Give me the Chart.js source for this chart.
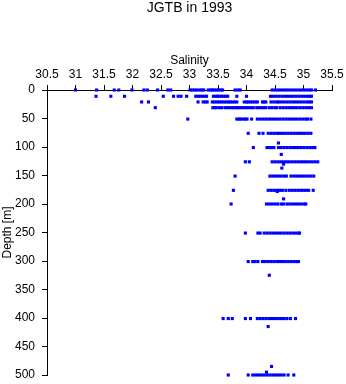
<!DOCTYPE html>
<html>
<head>
<meta charset="utf-8">
<script src="https://cdn.jsdelivr.net/npm/chart.js@4/dist/chart.umd.min.js"></script>
<style>
  body { margin: 0; background: #fff; }
  #wrap { width: 346px; height: 384px; }
</style>
</head>
<body>
<div id="wrap"><canvas id="chart" width="346" height="384"></canvas></div>
<script>
// salinity readings at each sampled depth (m)
const s0 = [31.0, 31.37, 31.68, 31.76, 31.99, 32.2, 32.26, 32.44, 32.62, 32.67, 33.01, 33.05, 33.09, 33.13, 33.18, 33.22, 33.25, 33.33, 33.37, 33.4, 33.43, 33.47, 33.51, 33.55, 33.58, 33.8, 33.85, 33.89,
  34.45, 34.5, 34.55, 34.6, 34.65, 34.7, 34.75, 34.8, 34.85, 34.9, 34.95, 35.0, 35.05, 35.1, 35.14, 35.21];
const s11 = [31.36, 31.62, 31.86, 32.54, 32.72, 32.8, 32.85, 32.95, 33.11, 33.15, 33.19, 33.23, 33.27, 33.3, 33.42, 33.46, 33.49, 33.52, 33.56, 33.6, 33.64, 33.67, 33.83, 34.0,
  34.42, 34.47, 34.52, 34.57, 34.62, 34.67, 34.72, 34.77, 34.82, 34.87, 34.92, 34.97, 35.02, 35.07, 35.11, 35.14];
const s21 = [32.16, 32.28, 33.15, 33.24, 33.28, 33.31, 33.4, 33.44, 33.48, 33.52, 33.56, 33.6, 33.64, 33.68, 33.71, 33.75, 33.79, 33.83, 33.96, 34.0, 34.03, 34.07, 34.11, 34.15, 34.19, 34.28, 34.31, 34.34, 34.43, 34.48, 34.53,
  34.56, 34.61, 34.66, 34.71, 34.76, 34.81, 34.86, 34.91, 34.96, 35.01, 35.06, 35.1, 35.14];
const s31 = [32.4, 33.41, 33.44, 33.47, 33.52, 33.56, 33.62, 33.66, 33.7, 33.74, 33.78, 33.82, 33.85, 33.88, 33.92, 33.96, 34.0, 34.04, 34.08, 34.12, 34.18, 34.22, 34.26, 34.3, 34.34, 34.4, 34.45, 34.5, 34.53,
  34.59, 34.64, 34.69, 34.74, 34.79, 34.84, 34.89, 34.94, 34.99, 35.04, 35.09, 35.14];
const s51 = [32.97, 33.83, 33.87, 33.9, 33.94, 33.98, 34.01, 34.09,
  34.19, 34.24, 34.29, 34.34, 34.39, 34.44, 34.49, 34.54, 34.59, 34.64, 34.69, 34.74, 34.79, 34.84, 34.89, 34.94, 34.99, 35.04, 35.07, 35.13];
const s76 = [34.03, 34.22, 34.29, 34.38, 34.43, 34.48, 34.53, 34.58, 34.63, 34.68, 34.73, 34.78, 34.83, 34.88, 34.93, 34.98, 35.03, 35.08, 35.13];
const s93 = [34.56];
const s101 = [34.12, 34.36, 34.4, 34.44, 34.48, 34.56, 34.61, 34.66, 34.71, 34.76, 34.81, 34.86, 34.91, 34.96, 35.01, 35.06, 35.11, 35.16, 35.2];
const s113 = [34.61];
const s126 = [33.98, 34.05, 34.45, 34.5, 34.55, 34.6, 34.65, 34.7, 34.75, 34.8, 34.85, 34.9, 34.95, 35.0, 35.05, 35.1, 35.15, 35.2, 35.25];
const s130 = [34.65];
const s137 = [34.62];
const s151 = [33.8, 34.41, 34.46, 34.51, 34.56, 34.61, 34.66, 34.7, 34.78, 34.83, 34.88, 34.93, 34.98, 35.03, 35.08, 35.13, 35.18];
const s176 = [33.77, 34.38, 34.43, 34.48, 34.53, 34.58, 34.63, 34.69, 34.75, 34.8, 34.85, 34.9, 34.95, 35.0, 35.05, 35.09, 35.17];
const s178 = [34.54];
const s191 = [34.65];
const s200 = [33.73, 34.35, 34.4, 34.45, 34.5, 34.55, 34.61, 34.65, 34.71, 34.76, 34.81, 34.86, 34.91, 34.96, 35.01, 35.04];
const s251 = [33.98, 34.2, 34.24, 34.31, 34.36, 34.41, 34.46, 34.51, 34.56, 34.61, 34.66, 34.71, 34.76, 34.81, 34.86, 34.91, 34.93];
const s301 = [34.03, 34.11, 34.15, 34.2, 34.28, 34.33, 34.38, 34.43, 34.48, 34.53, 34.58, 34.63, 34.68, 34.73, 34.78, 34.83, 34.88, 34.91];
const s325 = [34.4];
const s401 = [33.59, 33.68, 33.75, 33.98, 34.07, 34.19, 34.24, 34.29, 34.34, 34.39, 34.44, 34.49, 34.54, 34.59, 34.63, 34.66, 34.71, 34.77, 34.86];
const s415 = [34.38];
const s485 = [34.44];
const s495 = [34.35];
const s500 = [33.68, 34.03, 34.11, 34.16, 34.21, 34.26, 34.31, 34.36, 34.41, 34.46, 34.51, 34.56, 34.61, 34.66, 34.73, 34.83];

const depths = [0, 11, 21, 31, 51, 76, 93, 101, 113, 126, 130, 137, 151, 176, 178, 191, 200, 251, 301, 325, 401, 415, 485, 495, 500];
const readings = [s0, s11, s21, s31, s51, s76, s93, s101, s113, s126, s130, s137, s151, s176, s178, s191, s200, s251, s301, s325, s401, s415, s485, s495, s500];

const salinityTicks = { min: 30.5, max: 35.5, step: 0.5 };
const depthTicks = { min: 0, max: 500, step: 50 };

const points = [];
depths.forEach((d, i) => {
    readings[i].forEach(s => points.push({ x: s, y: d }));
});

const FONT = '"Liberation Sans", Arial, Helvetica, sans-serif';

new Chart(document.getElementById('chart'), {
    type: 'scatter',
    data: {
        datasets: [{
            data: points,
            pointStyle: 'rect',
            pointRadius: 2.2,
            pointBorderWidth: 0,
            backgroundColor: '#0000ff',
            borderColor: '#0000ff',
            clip: false
        }]
    },
    options: {
        responsive: false,
        animation: false,
        events: [],
        layout: { padding: { left: 0, right: 14, top: 0, bottom: 9 } },
        plugins: {
            legend: { display: false },
            tooltip: { enabled: false },
            title: {
                display: true,
                fullSize: false,
                text: 'JGTB in 1993',
                color: '#000',
                font: { family: FONT, size: 14, weight: 'normal' },
                padding: { top: 0, bottom: 1.2 }
            }
        },
        scales: {
            x: {
                type: 'linear',
                position: 'top',
                min: salinityTicks.min,
                max: salinityTicks.max,
                afterFit: scale => {
                    scale.height = 72;
                    scale.paddingLeft = 0;
                    scale.paddingRight = 0;
                },
                ticks: {
                    stepSize: salinityTicks.step,
                    autoSkip: false,
                    maxRotation: 0,
                    minRotation: 0,
                    color: '#000',
                    padding: 3,
                    font: { family: FONT, size: 12 },
                    callback: v => String(Number(v.toFixed(1)))
                },
                grid: { drawOnChartArea: false, drawTicks: true, tickLength: 5, color: '#000' },
                border: { display: true, color: '#000', width: 1 },
                title: {
                    display: true,
                    text: 'Salinity',
                    color: '#000',
                    font: { family: FONT, size: 12 },
                    padding: { top: 35, bottom: 0 }
                }
            },
            y: {
                type: 'linear',
                reverse: true,
                min: depthTicks.min,
                max: depthTicks.max,
                afterFit: scale => {
                    scale.width = 47;
                    scale.paddingTop = 0;
                    scale.paddingBottom = 0;
                },
                ticks: {
                    stepSize: depthTicks.step,
                    color: '#000',
                    padding: 7,
                    font: { family: FONT, size: 12 }
                },
                grid: { drawOnChartArea: false, drawTicks: true, tickLength: 5, color: '#000' },
                border: { display: true, color: '#000', width: 1 },
                title: {
                    display: true,
                    text: 'Depth [m]',
                    color: '#000',
                    font: { family: FONT, size: 12 },
                    padding: { top: 0, bottom: 0 }
                }
            }
        }
    }
});
</script>
</body>
</html>
